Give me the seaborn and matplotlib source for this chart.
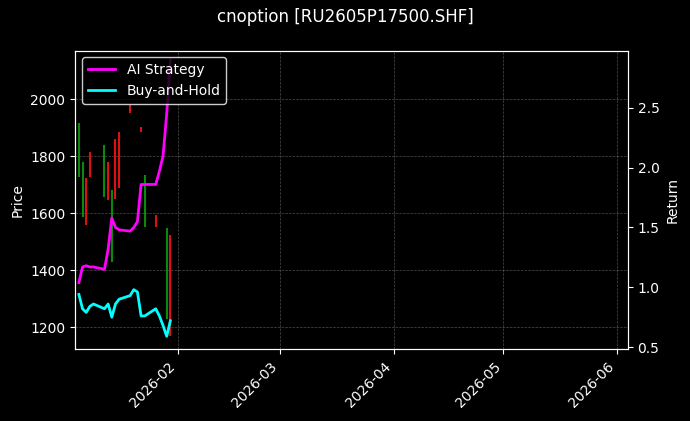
import matplotlib
matplotlib.use('Agg')
import matplotlib.pyplot as plt
import matplotlib.dates as mdates
import seaborn as sns
import pandas as pd

# daily returns (normalised equity curves)
dates = pd.to_datetime(['2026-01-05', '2026-01-06', '2026-01-07', '2026-01-08', '2026-01-09',
                        '2026-01-12', '2026-01-13', '2026-01-14', '2026-01-15', '2026-01-16',
                        '2026-01-19', '2026-01-20', '2026-01-21', '2026-01-22', '2026-01-23',
                        '2026-01-26', '2026-01-27', '2026-01-28', '2026-01-29', '2026-01-30'])
ai_strategy = [1.04, 1.17, 1.18, 1.17, 1.17, 1.15, 1.32, 1.58, 1.50, 1.48,
               1.47, 1.50, 1.55, 1.86, 1.86, 1.86, 1.97, 2.10, 2.45, 2.90]
buy_hold = [0.94, 0.82, 0.79, 0.84, 0.86, 0.82, 0.86, 0.75, 0.86, 0.90,
            0.93, 0.98, 0.96, 0.76, 0.76, 0.82, 0.76, 0.68, 0.59, 0.72]

# candles (only days with trades)
candle_dates = pd.to_datetime(['2026-01-05', '2026-01-06', '2026-01-07', '2026-01-08', '2026-01-12',
                               '2026-01-13', '2026-01-14', '2026-01-15', '2026-01-16', '2026-01-19',
                               '2026-01-22', '2026-01-23', '2026-01-26', '2026-01-29', '2026-01-30'])
opens = [1727, 1588, 1724, 1815, 1657, 1780, 1430, 1860, 1885, 1979, 1902, 1553, 1595, 1228, 1525]
closes = [1916, 1780, 1560, 1727, 1840, 1647, 1682, 1650, 1689, 1951, 1885, 1734, 1553, 1549, 1169]

plt.style.use('dark_background')
plt.rcParams['font.family'] = ['DejaVu Sans']

fig, ax = plt.subplots(figsize=(6.9, 4.21), dpi=100)
fig.patch.set_facecolor('black')
ax.set_facecolor('black')

colors = ['#0a8a0a' if c >= o else '#e01010' for o, c in zip(opens, closes)]
ax.vlines(candle_dates, [min(o, c) for o, c in zip(opens, closes)],
          [max(o, c) for o, c in zip(opens, closes)], colors=colors, linewidth=1.5)
ax.set_ylim(1123, 2171)
ax.set_ylabel('Price')
ax.grid(True, color='gray', linestyle='--', linewidth=0.5, alpha=0.6)

ax2 = ax.twinx()
df = pd.DataFrame({'date': dates, 'ai': ai_strategy, 'bh': buy_hold})
sns.lineplot(data=df, x='date', y='ai', ax=ax2, color='magenta', linewidth=2, label='AI Strategy')
sns.lineplot(data=df, x='date', y='bh', ax=ax2, color='cyan', linewidth=2, label='Buy-and-Hold')
ax2.set_ylim(0.48, 2.98)
ax2.set_ylabel('Return')
ax2.set_xlabel('')
ax2.legend(loc='upper left', facecolor='black', edgecolor='white', framealpha=0.8)

ax.set_xlim(pd.Timestamp('2026-01-04'), pd.Timestamp('2026-06-04'))
ax.xaxis.set_major_locator(mdates.MonthLocator())
ax.xaxis.set_major_formatter(mdates.DateFormatter('%Y-%m'))
plt.setp(ax.get_xticklabels(), rotation=45, ha='right')

fig.suptitle('cnoption [RU2605P17500.SHF]', y=0.98)
fig.subplots_adjust(left=0.109, right=0.91, top=0.88, bottom=0.17)
fig.savefig('out.png', dpi=100, facecolor='black')
